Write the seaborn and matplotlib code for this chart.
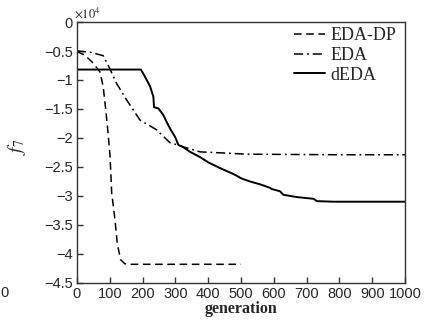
import seaborn as sns
import pandas as pd
import matplotlib.pyplot as plt
from matplotlib.ticker import FuncFormatter

# Dados (valores em unidades de 10^4)
gen_dp = [0, 24, 50, 70, 80, 88, 95, 101, 106, 116, 123, 133, 146, 160, 500]
f_dp = [-0.51, -0.57, -0.71, -0.86, -1.11, -1.52, -1.92, -2.32, -2.95, -3.41,
        -3.82, -4.10, -4.17, -4.18, -4.18]

gen_eda = [0, 40, 80, 100, 121, 151, 192, 243, 283, 334, 375, 450, 517, 800, 1000]
f_eda = [-0.50, -0.52, -0.58, -0.80, -1.06, -1.34, -1.69, -1.86, -2.08, -2.17,
         -2.24, -2.26, -2.28, -2.29, -2.29]

gen_deda = [0, 195, 207, 223, 233, 235, 248, 263, 273, 285, 299, 309, 324, 345,
            375, 400, 436, 476, 502, 527, 558, 588, 593, 619, 629, 670, 721, 731,
            782, 797, 1000]
f_deda = [-0.82, -0.82, -0.94, -1.11, -1.29, -1.47, -1.49, -1.60, -1.72, -1.85,
          -1.98, -2.12, -2.16, -2.24, -2.33, -2.42, -2.52, -2.62, -2.70, -2.75,
          -2.80, -2.86, -2.88, -2.92, -2.98, -3.02, -3.05, -3.09, -3.10, -3.10,
          -3.10]

labels = ['EDA-DP', 'EDA', 'dEDA']
xticks = list(range(0, 1001, 100))
yticks = [0, -0.5, -1, -1.5, -2, -2.5, -3, -3.5, -4, -4.5]

sns.set_style("white")
plt.rcParams['font.family'] = ['Liberation Sans', 'DejaVu Sans']
plt.rcParams['mathtext.fontset'] = 'stix'

fig = plt.figure(figsize=(4.37, 3.24), dpi=100)
ax = fig.add_axes([0.176, 0.127, 0.751, 0.805])

df_dp = pd.DataFrame({'generation': gen_dp, 'f': f_dp})
df_eda = pd.DataFrame({'generation': gen_eda, 'f': f_eda})
df_deda = pd.DataFrame({'generation': gen_deda, 'f': f_deda})

sns.lineplot(data=df_dp, x='generation', y='f', ax=ax, color='black', lw=1.1,
             label=labels[0], estimator=None, sort=False)
ax.lines[-1].set_dashes([5, 3])
sns.lineplot(data=df_eda, x='generation', y='f', ax=ax, color='black', lw=1.1,
             label=labels[1], estimator=None, sort=False)
ax.lines[-1].set_dashes([6, 2.5, 1.2, 2.5])
sns.lineplot(data=df_deda, x='generation', y='f', ax=ax, color='black', lw=1.4,
             label=labels[2], estimator=None, sort=False)

# Eixos
ax.set_xlim(0, 1000)
ax.set_ylim(-4.5, 0)
ax.set_xticks(xticks)
ax.set_yticks(yticks)
ax.yaxis.set_major_formatter(FuncFormatter(lambda v, p: ('%g' % v).replace('-', '\u2212')))
ax.tick_params(direction='in', length=4, width=1, labelsize=10.5, color='#333333',
               bottom=True, left=True, top=False, right=False, pad=3)
for s in ax.spines.values():
    s.set_color('#333333')
    s.set_linewidth(1.0)

ax.set_xlabel('generation', family=['Liberation Serif'], fontweight='bold',
              fontsize=11.5, labelpad=0)
ax.set_ylabel(r'$f_7$', fontsize=14)
ax.yaxis.set_label_coords(-0.15, 0.52)

ax.text(-0.01, 1.005, r'$\times10^4$', transform=ax.transAxes, fontsize=9,
        family=['Liberation Sans'], va='bottom', ha='left')
fig.text(0.0, 0.095, '0', fontsize=10.5, ha='left', va='center')

leg = ax.legend(loc='upper right', frameon=False, prop={'family': 'Liberation Serif', 'size': 13},
                handlelength=1.7, handletextpad=0.3, labelspacing=0.15,
                borderaxespad=0.1, bbox_to_anchor=(1.0, 1.015))

fig.savefig('out.png', dpi=100)
